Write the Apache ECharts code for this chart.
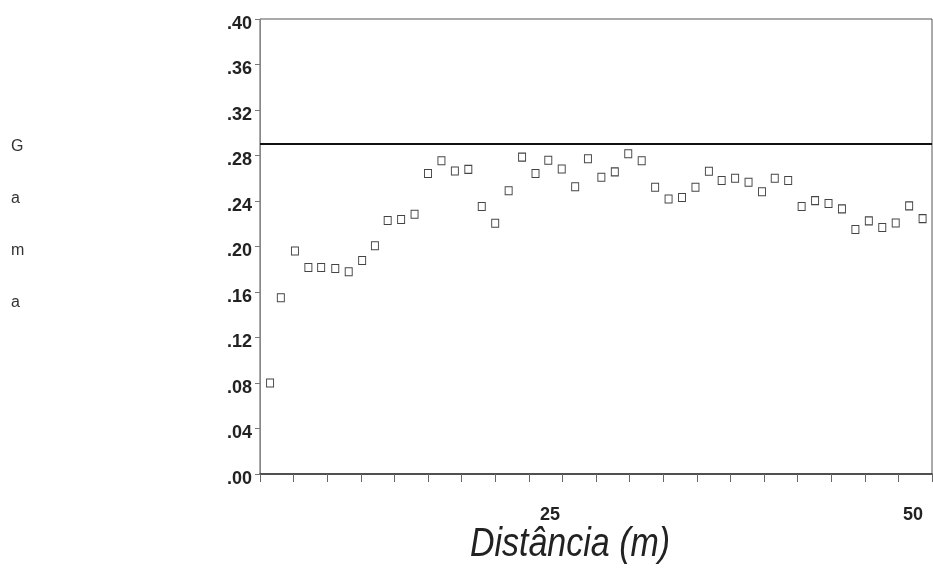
<!DOCTYPE html>
<html>
<head>
<meta charset="utf-8">
<script src="https://cdn.jsdelivr.net/npm/echarts@6/dist/echarts.min.js"></script>
<style>
html,body{margin:0;padding:0;background:#fff;}
#chart{width:933px;height:573px;}
</style>
</head>
<body>
<div id="chart"></div>
<script>
// Lag distances (m) of each semivariogram point
var distances = [0.75, 1.55, 2.6, 3.6, 4.55, 5.6, 6.6, 7.6, 8.55, 9.5,
  10.5, 11.5, 12.5, 13.5, 14.5, 15.5, 16.5, 17.5, 18.5, 19.5,
  20.5, 21.45, 22.45, 23.45, 24.4, 25.4, 26.4, 27.4, 28.4, 29.4,
  30.4, 31.4, 32.4, 33.4, 34.35, 35.35, 36.35, 37.35, 38.3, 39.3,
  40.3, 41.3, 42.3, 43.3, 44.3, 45.3, 46.3, 47.3, 48.3, 49.3];
// Semivariance (Gama) values
var gamma = [0.080, 0.155, 0.196, 0.1815, 0.1815, 0.1806, 0.1778, 0.1877, 0.2006, 0.2229,
  0.2237, 0.2283, 0.2641, 0.2754, 0.2664, 0.2678, 0.2351, 0.2204, 0.2490, 0.2786,
  0.2641, 0.2759, 0.2682, 0.2525, 0.2771, 0.2609, 0.2656, 0.2815, 0.2754, 0.2521,
  0.2417, 0.2430, 0.2521, 0.2661, 0.2580, 0.2600, 0.2565, 0.2481, 0.2600, 0.2580,
  0.2351, 0.2403, 0.2378, 0.2331, 0.2149, 0.2225, 0.2167, 0.2206, 0.2357, 0.2245];
// Sample variance (horizontal reference line)
var sillValue = 0.2944;
// Labelled x ticks
var xTickLabels = [25, 50];
// Axis ranges / steps
var yMin = 0, yMax = 0.40, yStep = 0.04;
var xMin = 0, xMax = 50, xStep = 2.5;
var xTitle = 'Distância (m)';
var yTitle = 'Gama';

var points = distances.map(function (d, i) { return [d, gamma[i]]; });

var chart = echarts.init(document.getElementById('chart'));
chart.setOption({
  animation: false,
  backgroundColor: '#fff',
  grid: {
    left: 260, right: 1, top: 19, bottom: 99,
    show: true, borderColor: '#555', borderWidth: 1, backgroundColor: 'transparent'
  },
  graphic: [
    {
      type: 'text', left: 11, top: 121,
      style: {
        text: yTitle.split('').join('\n'),
        font: '16px "Liberation Sans", Arial', fill: '#333', lineHeight: 52
      }
    },
    {
      type: 'text', x: 570, y: 545, scaleX: 0.85,
      style: {
        text: xTitle,
        font: 'italic 40px "Liberation Sans", Arial', fill: '#222',
        textAlign: 'center', textVerticalAlign: 'middle'
      }
    }
  ],
  xAxis: {
    type: 'value', min: xMin, max: xMax, interval: xStep,
    splitLine: { show: false },
    axisLine: { show: true, lineStyle: { color: '#333', width: 1.5 } },
    axisTick: { show: true, length: 8, lineStyle: { color: '#666', width: 1 } },
    axisLabel: {
      margin: 32,
      formatter: function (v) {
        if (xTickLabels.indexOf(v) < 0) return '';
        return v === 25 ? '{a|' + v + '}' : '{b|' + v + '}';
      },
      rich: {
        a: { fontFamily: 'Liberation Sans, Arial', fontWeight: 'bold', fontSize: 18, color: '#222', padding: [0, 92, 0, 0] },
        b: { fontFamily: 'Liberation Sans, Arial', fontWeight: 'bold', fontSize: 18, color: '#222', padding: [0, 38, 0, 0] }
      }
    }
  },
  yAxis: {
    type: 'value', min: yMin, max: yMax, interval: yStep,
    splitLine: { show: false },
    axisLine: { show: true, lineStyle: { color: '#888', width: 1 } },
    axisTick: { show: true, length: 5, lineStyle: { color: '#777' } },
    axisLabel: {
      margin: 8,
      formatter: function (v) { return '{v|' + v.toFixed(2).replace(/^0/, '') + '}'; },
      rich: {
        v: { fontFamily: 'Liberation Sans, Arial', fontWeight: 'bold', fontSize: 18, color: '#222', padding: [10, 0, 0, 0] }
      }
    }
  },
  series: [{
    type: 'scatter',
    data: points,
    symbol: 'rect',
    symbolSize: [7, 8],
    itemStyle: { color: '#fff', borderColor: '#444', borderWidth: 1, opacity: 1 },
    markLine: {
      silent: true,
      symbol: ['none', 'none'],
      label: { show: false },
      lineStyle: { color: '#111', width: 2, type: 'solid' },
      data: [{ yAxis: sillValue }]
    }
  }]
});
</script>
</body>
</html>
